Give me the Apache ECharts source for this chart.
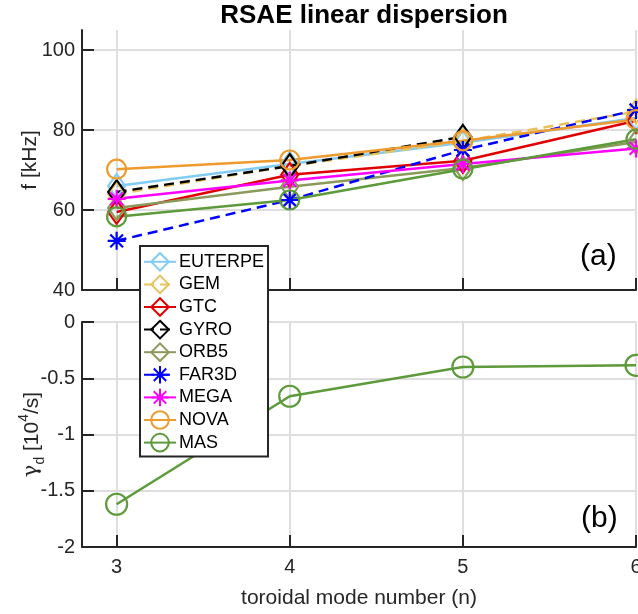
<!DOCTYPE html>
<html>
<head>
<meta charset="utf-8">
<script src="https://cdn.jsdelivr.net/npm/echarts@6/dist/echarts.min.js"></script>
<style>html,body{margin:0;padding:0;background:#fff;}#c{width:638px;height:614px;}</style>
</head>
<body>
<div id="c"></div>
<script>
// ---- data ----
const nValues = [3, 4, 5, 6];
const xTicks = [3, 4, 5, 6];
const fTicks = [40, 60, 80, 100];
const gTicks = [-2, -1.5, -1, -0.5, 0];
const euterpe = [66.0, 71.5, 76.8, 83.0];
const gem     = [64.0, 71.0, 77.2, 84.6];
const gtc     = [59.5, 68.8, 72.3, 82.3];
const gyro    = [64.5, 71.0, 78.3, null];
const orb5    = [60.5, 65.8, 70.5, 77.0];
const far3d   = [52.3, 62.5, 75.0, 85.0];
const mega    = [62.8, 67.4, 71.5, 75.4];
const nova    = [70.2, 72.5, 77.3, 82.6];
const mas     = [58.3, 62.5, 70.2, 77.7];
const masDamping = [-1.62, -0.66, -0.40, -0.385];
const codeNames = ['EUTERPE','GEM','GTC','GYRO','ORB5','FAR3D','MEGA','NOVA','MAS'];

const FONT = '"Liberation Sans", Arial, Helvetica, sans-serif';
const AX = '#262626';
const GRID = '#dedede';
const STAR = 'path://M0,-10L0,10M-10,0L10,0M-7.07,-7.07L7.07,7.07M-7.07,7.07L7.07,-7.07';

const specs = [
  {name:'EUTERPE', data:euterpe, color:'#80ccf5', sym:'diamond', dash:false},
  {name:'GEM',     data:gem,     color:'#e8c25c', sym:'diamond', dash:true},
  {name:'GTC',     data:gtc,     color:'#e00000', sym:'diamond', dash:false},
  {name:'GYRO',    data:gyro,    color:'#000000', sym:'diamond', dash:true},
  {name:'ORB5',    data:orb5,    color:'#8a9a5b', sym:'diamond', dash:false},
  {name:'FAR3D',   data:far3d,   color:'#0000ff', sym:STAR,      dash:true},
  {name:'MEGA',    data:mega,    color:'#ff00ff', sym:STAR,      dash:false},
  {name:'NOVA',    data:nova,    color:'#ee9a2e', sym:'circle',  dash:false},
  {name:'MAS',     data:mas,     color:'#5c9a3a', sym:'circle',  dash:false}
];

function symSize(sym){
  if (sym === 'diamond') return [17, 24];
  if (sym === 'circle') return 19;
  return 18;
}

const series = specs.map(s => ({
  name: s.name,
  type: 'line',
  xAxisIndex: 0, yAxisIndex: 0,
  data: nValues.map((n, i) => [n, s.data[i]]),
  symbol: s.sym,
  symbolSize: symSize(s.sym),
  showSymbol: true,
  clip: false,
  lineStyle: {color: s.color, width: 2.5, type: s.dash ? [10, 6] : 'solid'},
  itemStyle: {color: 'rgba(0,0,0,0)', borderColor: s.color, borderWidth: 2.2},
  emphasis: {disabled: true},
  animation: false
}));

series.push({
  name: 'MAS_gamma',
  type: 'line',
  xAxisIndex: 1, yAxisIndex: 1,
  data: nValues.map((n, i) => [n, masDamping[i]]),
  symbol: 'circle',
  symbolSize: 21,
  clip: false,
  lineStyle: {color: '#5c9a3a', width: 2.5},
  itemStyle: {color: 'rgba(0,0,0,0)', borderColor: '#5c9a3a', borderWidth: 2.2},
  emphasis: {disabled: true},
  animation: false
});

function xAxisCfg(gridIndex, showLabels){
  return {
    type: 'value', gridIndex: gridIndex, min: 2.8, max: 6,
    axisLine: {show: true, onZero: false, lineStyle: {color: AX, width: 2}},
    axisTick: {show: true, inside: true, length: 12, customValues: xTicks, lineStyle: {color: AX, width: 2}},
    axisLabel: {show: showLabels, customValues: xTicks, color: AX, fontSize: 20, fontFamily: FONT, margin: 10},
    splitLine: {show: true, lineStyle: {color: GRID, width: 2}}
  };
}

const option = {
  backgroundColor: '#fff',
  animation: false,
  title: {
    text: 'RSAE linear dispersion',
    left: 359, top: -2, textAlign: 'center',
    textStyle: {fontFamily: FONT, fontWeight: 'bold', fontSize: 26, color: '#000'}
  },
  grid: [
    {left: 82, top: 30, width: 554, height: 260, containLabel: false, outerBoundsMode: 'none'},
    {left: 82, top: 322, width: 554, height: 225, containLabel: false, outerBoundsMode: 'none'}
  ],
  xAxis: [
    xAxisCfg(0, false),
    Object.assign(xAxisCfg(1, true), {
      name: 'toroidal mode number (n)', nameLocation: 'middle', nameGap: 41,
      nameMoveOverlap: false,
      nameTextStyle: {color: AX, fontSize: 21, fontFamily: FONT}
    })
  ],
  yAxis: [
    {
      type: 'value', gridIndex: 0, min: 40, max: 105,
      name: 'f [kHz]', nameLocation: 'middle', nameGap: 41, nameMoveOverlap: false,
      nameTextStyle: {color: AX, fontSize: 21, fontFamily: FONT},
      axisLine: {show: true, onZero: false, lineStyle: {color: AX, width: 2}},
      axisTick: {show: true, inside: true, length: 12, customValues: fTicks, lineStyle: {color: AX, width: 2}},
      axisLabel: {customValues: fTicks, color: AX, fontSize: 20, fontFamily: FONT, margin: 7},
      splitLine: {show: true, lineStyle: {color: GRID, width: 2}}
    },
    {
      type: 'value', gridIndex: 1, min: -2, max: 0, interval: 0.5,
      name: '{g|γ}{sub|d} [10{sup|4}/s]', nameLocation: 'middle', nameGap: 35, nameMoveOverlap: false,
      nameTextStyle: {
        color: AX, fontSize: 21, fontFamily: FONT, lineHeight: 30,
        rich: {
          g: {fontSize: 21, fontFamily: '"DejaVu Serif", serif', color: AX, lineHeight: 30, verticalAlign: 'middle'},
          sub: {fontSize: 14, fontFamily: FONT, color: AX, lineHeight: 14, verticalAlign: 'bottom'},
          sup: {fontSize: 14, fontFamily: FONT, color: AX, lineHeight: 14, verticalAlign: 'top'}
        }
      },
      axisLine: {show: true, onZero: false, lineStyle: {color: AX, width: 2}},
      axisTick: {show: true, inside: true, length: 12, lineStyle: {color: AX, width: 2}},
      axisLabel: {color: AX, fontSize: 20, fontFamily: FONT, margin: 7,
        formatter: v => (v === 0 ? '0' : String(v))},
      splitLine: {show: true, lineStyle: {color: GRID, width: 2}}
    }
  ],
  legend: {
    data: codeNames,
    orient: 'vertical',
    left: 140, top: 246,
    width: 127,
    padding: [6, 4, 4, 3],
    itemWidth: 32, itemHeight: 22, itemGap: 3.0,
    backgroundColor: '#fff',
    borderColor: AX, borderWidth: 2, borderRadius: 0,
    selectedMode: false,
    z: 10,
    textStyle: {fontFamily: FONT, fontSize: 18, color: '#000', padding: [0, 0, 0, -2]}
  },
  graphic: [
    {type: 'text', left: 580, top: 242, z: 5,
      style: {text: '(a)', fontFamily: FONT, fontSize: 30, fill: '#000'}},
    {type: 'text', left: 581, top: 504, z: 5,
      style: {text: '(b)', fontFamily: FONT, fontSize: 30, fill: '#000'}}
  ],
  series: series
};

const chart = echarts.init(document.getElementById('c'), null, {renderer: 'canvas'});
chart.setOption(option);
</script>
</body>
</html>
